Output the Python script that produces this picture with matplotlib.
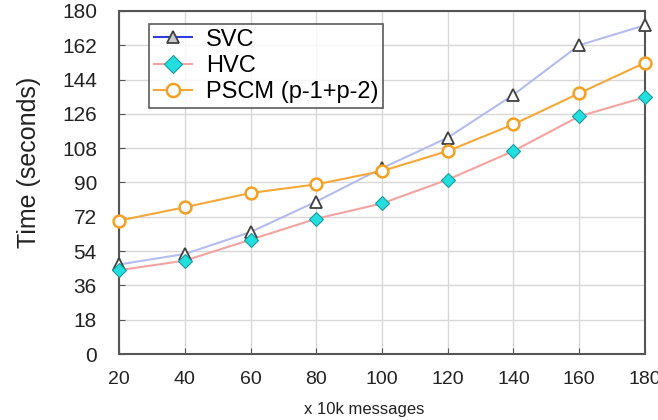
import matplotlib
matplotlib.use("Agg")
import matplotlib.pyplot as plt
from matplotlib.lines import Line2D

plt.rcParams['font.family'] = ['Liberation Sans', 'DejaVu Sans']

x_vals = [20, 40, 60, 80, 100, 120, 140, 160, 180]
svc = [47, 52.5, 64, 80, 97.5, 113.5, 136, 162, 172.5]
hvc = [44, 49, 60, 71, 79, 91.5, 106.5, 124.7, 134.7]
pscm = [70, 77, 84.5, 89, 96, 106.5, 120.5, 136.8, 152.8]
y_ticks = [0, 18, 36, 54, 72, 90, 108, 126, 144, 162, 180]
x_ticks = [20, 40, 60, 80, 100, 120, 140, 160, 180]

fig = plt.figure(figsize=(6.58, 4.2), dpi=100)
ax = fig.add_axes([0.181, 0.157, 0.799, 0.817])

ax.plot(x_vals, svc, color='#b4bcf0', lw=1.5, zorder=2)
ax.plot(x_vals, hvc, color='#f4a4a0', lw=1.5, zorder=2)
ax.plot(x_vals, pscm, color='#f4a838', lw=1.5, zorder=2)
ax.plot(x_vals, svc, ls='none', marker='^', ms=8, mfc='white', mec='#404040', mew=1.3, zorder=3, clip_on=False)
ax.plot(x_vals, hvc, ls='none', marker='D', ms=7, mfc='#22dede', mec='#189c9c', mew=0.8, zorder=3, clip_on=False)
ax.plot(x_vals, pscm, ls='none', marker='o', ms=8.5, mfc='white', mec='#f4a020', mew=1.8, zorder=3, clip_on=False)

ax.set_xlim(20, 180)
ax.set_ylim(0, 180)
ax.set_xticks(x_ticks)
ax.set_yticks(y_ticks)
ax.tick_params(axis='both', direction='in', length=4, color='#555555', labelcolor='#222222')
ax.tick_params(axis='x', labelsize=14, pad=12)
ax.tick_params(axis='y', labelsize=15, pad=16)
ax.grid(True, color='#d8d8d8', lw=1)
ax.set_axisbelow(True)
for s in ax.spines.values():
    s.set_color('#555555')
    s.set_linewidth(1.5)

ax.set_ylabel('Time (seconds)', fontsize=18, color='#222222')
ax.yaxis.set_label_coords(-0.148, 0.56)
ax.set_xlabel('x 10k messages', fontsize=12, color='#222222')
ax.xaxis.set_label_coords(0.466, -0.14)

handles = [
    Line2D([], [], color='#3040e0', lw=1.5, marker='^', ms=9, mfc='#c8c8c8', mec='#404040', mew=1.3),
    Line2D([], [], color='#f4a4a0', lw=1.5, marker='D', ms=9, mfc='#22dede', mec='#189c9c', mew=0.8),
    Line2D([], [], color='#f4a838', lw=1.5, marker='o', ms=9.5, mfc='white', mec='#f4a020', mew=1.8),
]
leg = ax.legend(handles, ['SVC', 'HVC', 'PSCM (p-1+p-2)'], loc='upper left',
                bbox_to_anchor=(0.057, 0.962), fontsize=17, frameon=True, fancybox=False,
                edgecolor='#333333', handlelength=1.6, borderpad=0.2, labelspacing=0.18,
                handletextpad=0.6, borderaxespad=0)
leg.get_frame().set_linewidth(1.2)

fig.savefig('out.png', dpi=100)
